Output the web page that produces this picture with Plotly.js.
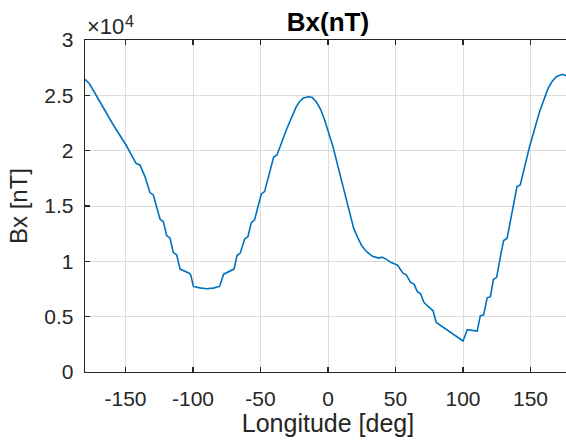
<!DOCTYPE html>
<html>
<head>
<meta charset="utf-8">
<script src="https://cdn.plot.ly/plotly-3.0.1.min.js"></script>
<style>
html,body{margin:0;padding:0;overflow:hidden;background:#fff;}
#chart{width:571px;height:445px;}
</style>
</head>
<body>
<div id="chart"></div>
<script>
// Longitude (deg)
const longitude = [-180,-177,-174,-166.4,-159,-149.6,-145.5,-142.2,-139.3,-135.6,-131.9,-129.4,-124.4,-122,-119.5,-117,-114.6,-112.1,-109.6,-102.7,-101.7,-99.7,-95,-90,-85,-80.3,-77.3,-69.6,-67.4,-65,-61.8,-59.3,-56.8,-54.4,-49.4,-47,-40.3,-37.8,-30.9,-27.2,-23.5,-21,-18.5,-14.8,-11.9,-8.7,-5.5,-2.5,0.5,3.7,9.9,16,19,22.2,25,28.4,33,37.5,40,43,46.9,49.9,51.5,55.5,58,61.2,63.7,66.1,68.6,71.1,76.5,77.8,80.2,90,100,103.2,110.5,112.8,115.3,117.9,120.3,122.5,124.9,128.4,130.1,132.6,140,142.4,149.3,156.7,160,163,166,169.1,173.6,177.3,180];
// Bx (nT)
const bx = [26450,26100,25480,23830,22320,20510,19610,18860,18710,17660,16210,16000,13810,13590,12330,12090,10790,10590,9300,8930,8780,7730,7600,7520,7580,7730,8840,9300,10520,10740,12000,12240,13500,13750,16090,16300,19400,19610,21870,22920,23970,24450,24730,24870,24820,24420,23740,22770,21630,20360,17360,14350,13000,12090,11400,10890,10450,10290,10380,10200,9890,9740,9650,8930,8780,8090,7940,7280,7070,6280,5690,5530,4480,3650,2800,3820,3700,5080,5170,6700,6800,8360,8550,10880,11880,12060,16750,16900,20360,23520,24700,25630,26250,26680,26900,26740,26550];
const xTicks = [-150,-100,-50,0,50,100,150];
const yTickVals = [0,5000,10000,15000,20000,25000,30000];
const yTickText = ['0','0.5','1','1.5','2','2.5','3'];

const axisColor = '#262626';
const font = 'Liberation Sans, Arial, Helvetica, sans-serif';

Plotly.newPlot('chart', [{
  x: longitude, y: bx, type: 'scatter', mode: 'lines',
  line: {color: '#0072BD', width: 1.6}, hoverinfo: 'skip'
}], {
  width: 571, height: 445,
  font: {family: font, size: 21, color: axisColor},
  margin: {l: 85, r: 0, t: 40, b: 73},
  paper_bgcolor: '#fff', plot_bgcolor: '#fff',
  showlegend: false,
  title: {text: 'Bx(nT)', x: 0.5, xref: 'paper', y: 0.951, yref: 'container', xanchor: 'center', yanchor: 'middle',
          font: {family: font, size: 26, color: '#000', weight: 'bold'}},
  xaxis: {
    range: [-180, 180], tickvals: xTicks, ticktext: xTicks.map(String),
    showline: true, linecolor: axisColor, linewidth: 1.3, mirror: 'ticks',
    ticks: 'inside', ticklen: 5, tickcolor: axisColor, tickwidth: 1.3,
    showgrid: true, gridcolor: '#dcdcdc', gridwidth: 1, zeroline: false,
    tickfont: {family: font, size: 21, color: axisColor}, ticklabelstandoff: 7,
    title: {text: 'Longitude [deg]', font: {family: font, size: 25, color: axisColor}, standoff: 5}
  },
  yaxis: {
    range: [0, 30000], tickvals: yTickVals, ticktext: yTickText,
    showline: true, linecolor: axisColor, linewidth: 1.3, mirror: 'ticks',
    ticks: 'inside', ticklen: 5, tickcolor: axisColor, tickwidth: 1.3,
    showgrid: true, gridcolor: '#dcdcdc', gridwidth: 1, zeroline: false,
    tickfont: {family: font, size: 21, color: axisColor}, ticklabelstandoff: 6,
    title: {text: 'Bx [nT]', font: {family: font, size: 24, color: axisColor}, standoff: 10}
  },
  annotations: [{
    text: '×10', xref: 'paper', yref: 'paper', x: 0, y: 1, xanchor: 'left', yanchor: 'bottom',
    xshift: 0, yshift: -1, showarrow: false, font: {family: font, size: 22, color: axisColor}
  }, {
    text: '4', xref: 'paper', yref: 'paper', x: 0, y: 1, xanchor: 'left', yanchor: 'bottom',
    xshift: 38, yshift: 8, showarrow: false, font: {family: font, size: 16, color: axisColor}
  }]
}, {staticPlot: true, displayModeBar: false});
</script>
</body>
</html>
